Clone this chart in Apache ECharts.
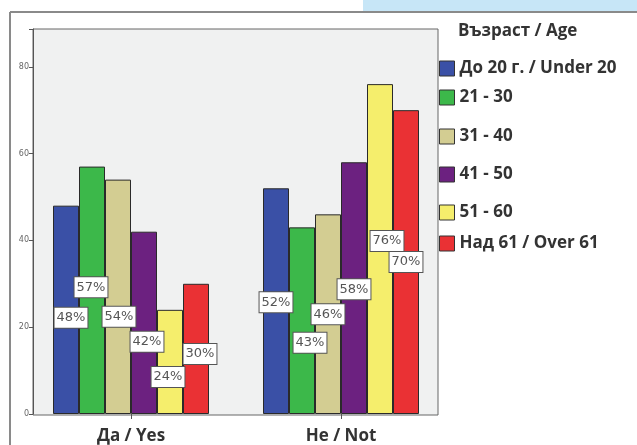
<!DOCTYPE html>
<html>
<head>
<meta charset="utf-8">
<script src="https://cdn.jsdelivr.net/npm/echarts@6/dist/echarts.min.js"></script>
<style>
  html, body { margin: 0; padding: 0; background: #fff; }
  #chart { width: 637px; height: 445px; }
</style>
</head>
<body>
<div id="chart"></div>
<script>
// Answer categories on the x axis
const categories = ['Да / Yes', 'Не / Not'];

// Age groups (legend entries)
const ageGroups = ['До 20 г. / Under 20', '21 - 30', '31 - 40', '41 - 50', '51 - 60', 'Над 61 / Over 61'];

// Percentages per age group: [Yes, Not]
const under20 = [48, 52];
const age21to30 = [57, 43];
const age31to40 = [54, 46];
const age41to50 = [42, 58];
const age51to60 = [24, 76];
const over61 = [30, 70];

// Y axis ticks
const yTicks = [0, 20, 40, 60, 80];

const seriesValues = [under20, age21to30, age31to40, age41to50, age51to60, over61];
const barColors = ['#3a50a6', '#3cb84a', '#d3cd92', '#6c2180', '#f5ee6c', '#ea3134'];

// Small nudges so value boxes don't collide, [dx, dy] per bar
const labelNudge = [
  [[5, 8], [0, 1]],
  [[-1, -3], [8, 22]],
  [[1, 20], [0, 0]],
  [[3, 19], [0, 1]],
  [[-2, 15], [7, -8]],
  [[4, 5], [0, 0]]
];

// Legend rows are spaced unevenly, one legend block per row
const legendRowCenters = [68, 97, 136, 174, 212, 243];

const chart = echarts.init(document.getElementById('chart'), null, { renderer: 'canvas' });

const series = ageGroups.map((name, i) => ({
  name: name,
  type: 'bar',
  barWidth: 26,
  barGap: '0%',
  itemStyle: { color: barColors[i], borderColor: '#2a2a2a', borderWidth: 1 },
  label: {
    show: true,
    position: 'inside',
    formatter: '{c}%',
    fontFamily: 'DejaVu Sans',
    fontSize: 13,
    color: '#555',
    backgroundColor: '#fff',
    borderColor: '#555',
    borderWidth: 1,
    padding: [4, 2, 3, 2]
  },
  data: seriesValues[i].map((v, j) => ({
    value: v,
    label: { offset: labelNudge[i][j] }
  })),
  z: 3
}));

const legends = ageGroups.map((name, i) => ({
  data: [name],
  left: 439,
  top: legendRowCenters[i] - 8,
  padding: 0,
  itemWidth: 15,
  itemHeight: 15,
  icon: 'rect',
  selectedMode: false,
  itemStyle: { borderColor: '#333', borderWidth: 1 },
  textStyle: { fontFamily: 'Open Sans', fontWeight: 'bold', fontSize: 17, color: '#333' }
}));

chart.setOption({
  animation: false,
  backgroundColor: '#fff',
  title: {
    text: 'Възраст / Age',
    left: 458,
    top: 23,
    padding: 0,
    textStyle: { fontFamily: 'Open Sans', fontWeight: 'bold', fontSize: 17, color: '#333' }
  },
  legend: legends,
  grid: { left: 26, right: 191, top: 29, bottom: 30 },
  xAxis: {
    type: 'category',
    data: categories,
    axisLine: { show: false },
    axisTick: { show: true, alignWithLabel: true, length: 5, lineStyle: { color: '#555' } },
    axisLabel: {
      margin: 14,
      fontFamily: 'Open Sans',
      fontWeight: 'bold',
      fontSize: 17,
      color: '#333'
    }
  },
  yAxis: {
    type: 'value',
    min: yTicks[0],
    max: 88.7,
    interval: yTicks[1] - yTicks[0],
    offset: -7,
    axisLine: { show: true, lineStyle: { color: '#555' } },
    axisTick: { show: true, length: 4, lineStyle: { color: '#555' } },
    axisLabel: {
      margin: 4,
      fontFamily: 'DejaVu Sans',
      fontSize: 8,
      color: '#666',
      formatter: v => (yTicks.includes(v) ? String(v) : '')
    },
    splitLine: { show: false }
  },
  graphic: [
    // page header strip and outer frame
    { type: 'rect', shape: { x: 363, y: 0, width: 274, height: 11 }, style: { fill: '#c7e6f7' }, z: -20 },
    { type: 'line', shape: { x1: 10, y1: 12, x2: 637, y2: 12 }, style: { stroke: '#8a8a8a', lineWidth: 2 }, z: -10 },
    { type: 'line', shape: { x1: 10, y1: 12, x2: 10, y2: 445 }, style: { stroke: '#8a8a8a', lineWidth: 2 }, z: -10 },
    // plot panel
    { type: 'rect', shape: { x: 33, y: 29, width: 405, height: 386 }, style: { fill: '#f0f1f1', stroke: '#666', lineWidth: 1 }, z: -5 }
  ],
  series: series
});
</script>
</body>
</html>
